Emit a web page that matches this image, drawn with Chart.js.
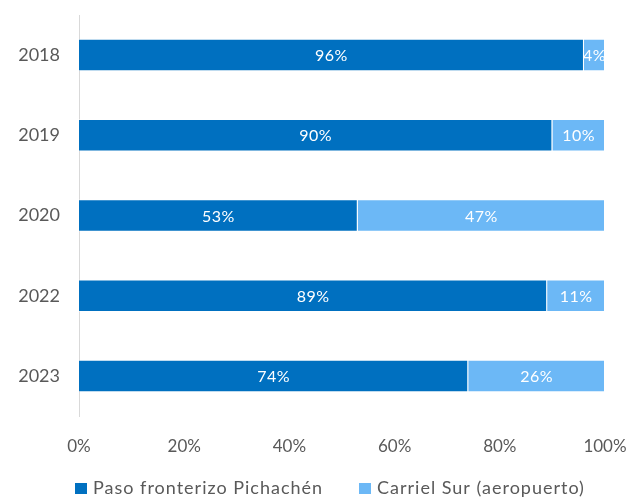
<!DOCTYPE html>
<html>
<head>
<meta charset="utf-8">
<script src="https://cdn.jsdelivr.net/npm/chart.js@4"></script>
<style>
html, body { margin: 0; padding: 0; background: #fff; }
#wrap { width: 641px; height: 499px; }
</style>
</head>
<body>
<div id="wrap"><canvas id="chart" width="641" height="499"></canvas></div>
<script>
const years = ["2018", "2019", "2020", "2022", "2023"];
const pichachen = [96, 90, 53, 89, 74];
const carrielSur = [4, 10, 47, 11, 26];
const seriesNames = ["Paso fronterizo Pichachén", "Carriel Sur (aeropuerto)"];
const xTicks = [0, 20, 40, 60, 80, 100];

const FONT = "Lato, 'Open Sans', sans-serif";
const GREY = "#595959";

// white % labels centred in each segment
const segmentLabels = {
  id: "segmentLabels",
  afterDatasetsDraw(chart) {
    const c = chart.ctx;
    c.save();
    c.fillStyle = "#ffffff";
    c.font = "16px " + FONT;
    c.letterSpacing = "0.5px";
    c.textAlign = "center";
    c.textBaseline = "middle";
    chart.data.datasets.forEach((ds, i) => {
      chart.getDatasetMeta(i).data.forEach((bar, j) => {
        const p = bar.getProps(["x", "base", "y"], true);
        c.fillText(ds.data[j] + "%", (p.x + p.base) / 2, p.y + 1);
      });
    });
    c.restore();
  }
};

// legend drawn at the bottom
const bottomLegend = {
  id: "bottomLegend",
  afterDraw(chart) {
    const c = chart.ctx;
    c.save();
    c.font = "18px " + FONT;
    c.letterSpacing = "1px";
    c.textBaseline = "middle";
    const y = 488;
    const starts = [75, 359];
    chart.data.datasets.forEach((ds, i) => {
      c.fillStyle = ds.backgroundColor;
      c.fillRect(starts[i], y - 5, 12, 11);
      c.fillStyle = GREY;
      c.fillText(ds.label, starts[i] + 18, y);
    });
    c.restore();
  }
};

new Chart(document.getElementById("chart"), {
  type: "bar",
  data: {
    labels: years,
    datasets: [
      {
        label: seriesNames[0],
        data: pichachen,
        backgroundColor: "#0070C0",
        borderColor: "rgba(255,255,255,0.5)",
        borderWidth: 1,
        categoryPercentage: 0.78,
        barPercentage: 0.52
      },
      {
        label: seriesNames[1],
        data: carrielSur,
        backgroundColor: "#6CB8F6",
        borderColor: "rgba(255,255,255,0.5)",
        borderWidth: 1,
        categoryPercentage: 0.78,
        barPercentage: 0.52
      }
    ]
  },
  options: {
    indexAxis: "y",
    responsive: false,
    animation: false,
    layout: { padding: { top: 15, right: 36, bottom: 0, left: 0 } },
    plugins: {
      legend: { display: false },
      tooltip: { enabled: false }
    },
    scales: {
      x: {
        stacked: true,
        min: 0,
        max: 100,
        afterBuildTicks(scale) {
          scale.ticks = xTicks.map(v => ({ value: v }));
        },
        afterFit(scale) {
          scale.height = 83;
          scale.paddingLeft = 0;
          scale.paddingRight = 0;
        },
        grid: { display: false, drawTicks: false },
        border: { display: false },
        ticks: {
          padding: 20,
          color: GREY,
          font: { family: FONT, size: 17 },
          callback: v => v + "%"
        }
      },
      y: {
        stacked: true,
        afterFit(scale) {
          scale.width = 79;
          scale.paddingTop = 0;
          scale.paddingBottom = 0;
        },
        grid: { display: false, drawTicks: false },
        border: { display: true, color: "#D9D9D9", width: 1 },
        ticks: {
          padding: 19,
          color: GREY,
          font: { family: FONT, size: 18 }
        }
      }
    }
  },
  plugins: [segmentLabels, bottomLegend]
});
</script>
</body>
</html>
